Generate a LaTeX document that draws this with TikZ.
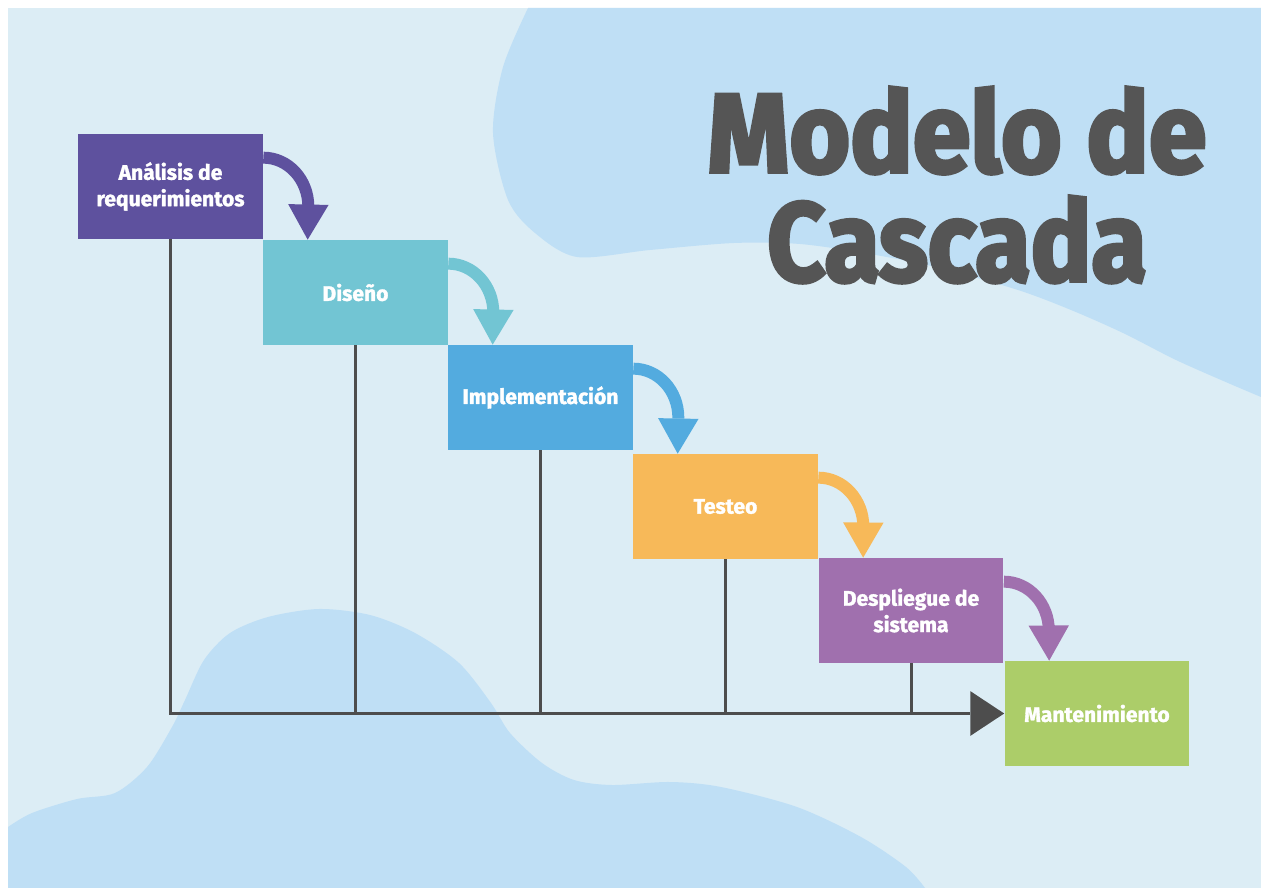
\documentclass[tikz,border=0pt]{standalone}
\usepackage{fontspec}
\usepackage{tikz}
\usetikzlibrary{arrows.meta, calc}
\newfontfamily\titlefont{Fira Sans}[FakeStretch=0.9, FakeBold=3]
\newfontfamily\boxfont{Fira Sans}[FakeBold=1.5]
\definecolor{bgblue}{RGB}{220,237,245}
\definecolor{blobblue}{RGB}{191,223,245}
\definecolor{linegray}{RGB}{77,77,77}
\definecolor{titlegray}{RGB}{85,85,85}
\definecolor{anacolor}{RGB}{94,81,158}
\definecolor{discolor}{RGB}{114,197,211}
\definecolor{impcolor}{RGB}{83,171,223}
\definecolor{tescolor}{RGB}{247,185,89}
\definecolor{descolor}{RGB}{160,112,174}
\definecolor{mancolor}{RGB}{172,205,105}

\tikzset{
  phase/.style={minimum width=3.7cm, minimum height=2.1cm, inner sep=0pt, text=white, align=center, font=\boxfont\bfseries\fontsize{12}{15}\selectfont},
  flow/.style={line width=6.8pt, -{Triangle[width=23pt,length=20pt,line width=0pt]}},
  link/.style={line width=1.7pt, linegray},
  axis/.style={link, -{Triangle[width=25.5pt,length=19.3pt,line width=0pt]}},
  title/.style={titlegray, inner sep=0pt, align=center, font=\titlefont\bfseries\fontsize{64}{62}\selectfont}
}

\begin{document}
\begin{tikzpicture}[x=0.02cm, y=-0.02cm]
    % Background
    \fill[white] (0,0) rectangle (1261,888);
    \fill[bgblue] (8,8) rectangle (1261,888);
    \useasboundingbox (0,0) rectangle (1261,888);

    % Blobs
    \fill[blobblue] plot[smooth] coordinates {(528,8) (503,67) (493,133) (508,200) (535,233) (577,257) (650,250) (734,243) (800,244) (870,254) (940,268) (1018,290) (1071,310) (1123,333) (1176,360) (1228,383) (1261,397)} -- (1261,8) -- cycle;
    \fill[blobblue] plot[smooth] coordinates {(8,827) (32,813) (77,799) (115,793) (147,767) (172,727) (185,700) (204,660) (230,633) (268,617) (319,609) (370,615) (415,633) (459,663) (491,703) (510,733) (542,763) (574,780) (612,785) (670,782) (721,787) (797,807) (861,837) (906,867) (925,888)} -- (8,888) -- cycle;

    % Title
    \node[title] (title) at (957,185) {\scalebox{1.03}[1]{Modelo de}\\Cascada};

    % Phases
    \node[phase, fill=anacolor] (ana) at (170.5,186.5) {Análisis de\\requerimientos};
    \node[phase, fill=discolor] (dis) at (355.5,292.5) {Diseño};
    \node[phase, fill=impcolor] (imp) at (540.5,397.5) {Implementación};
    \node[phase, fill=tescolor] (tes) at (725.5,506.5) {Testeo};
    \node[phase, fill=descolor] (des) at (911,610.5) {Despliegue de\\sistema};
    \node[phase, fill=mancolor] (man) at (1097,713.5) {Mantenimiento};

    % Time line
    \coordinate (start) at (169,713.5);
    \draw[link] (ana.south) -- (ana.south |- start);
    \draw[link] (dis.south) -- (dis.south |- start);
    \draw[link] (imp.south) -- (imp.south |- start);
    \draw[link] (tes.south) -- (tes.south |- start);
    \draw[link] (des.south) -- (des.south |- start);
    \draw[axis] (start) -- (man.west);

    % Arrows
    \draw[flow, anacolor] ($(ana.north east)+(0,24)$) .. controls +(25,0) and +(0,-27) .. ++(45,49) -- ($(dis.north west)+(45,0)$);
    \draw[flow, discolor] ($(dis.north east)+(0,24)$) .. controls +(25,0) and +(0,-27) .. ++(45,49) -- ($(imp.north west)+(45,0)$);
    \draw[flow, impcolor] ($(imp.north east)+(0,24)$) .. controls +(25,0) and +(0,-27) .. ++(45,49) -- ($(tes.north west)+(45,0)$);
    \draw[flow, tescolor] ($(tes.north east)+(0,24)$) .. controls +(25,0) and +(0,-27) .. ++(45,49) -- ($(des.north west)+(45,0)$);
    \draw[flow, descolor] ($(des.north east)+(0,24)$) .. controls +(25,0) and +(0,-27) .. ++(45,49) -- ($(man.north west)+(45,0)$);
\end{tikzpicture}
\end{document}
